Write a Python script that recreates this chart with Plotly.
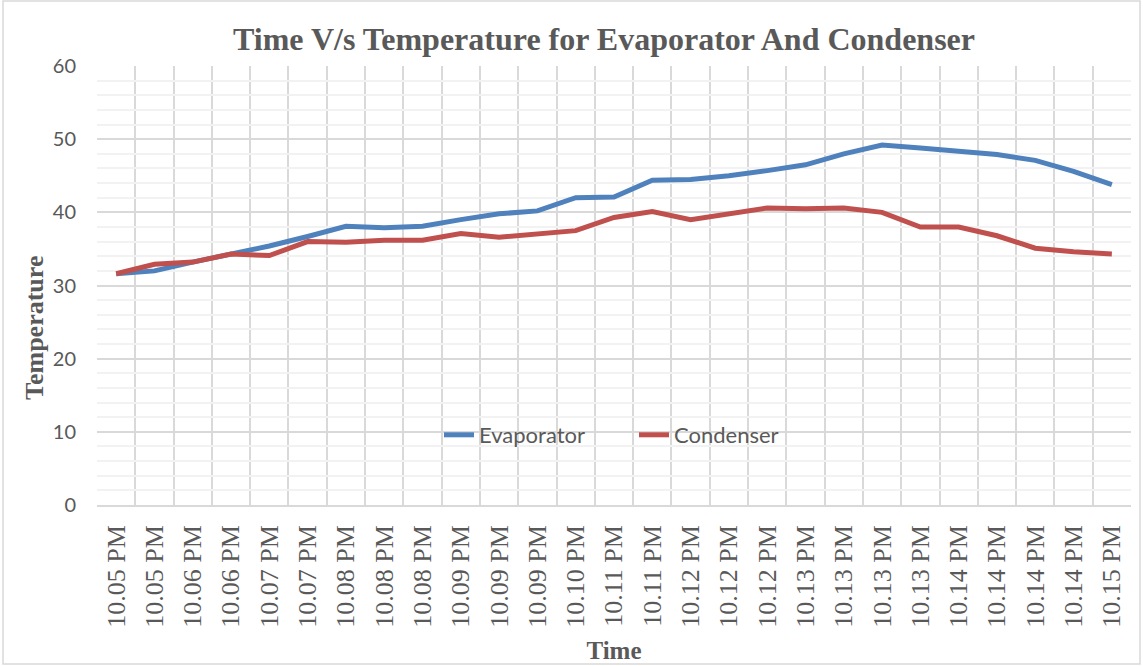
import plotly.graph_objects as go

times = ["10.05 PM", "10.05 PM", "10.06 PM", "10.06 PM", "10.07 PM", "10.07 PM",
         "10.08 PM", "10.08 PM", "10.08 PM", "10.09 PM", "10.09 PM", "10.09 PM",
         "10.10 PM", "10.11 PM", "10.11 PM", "10.12 PM", "10.12 PM", "10.12 PM",
         "10.13 PM", "10.13 PM", "10.13 PM", "10.13 PM", "10.14 PM", "10.14 PM",
         "10.14 PM", "10.14 PM", "10.15 PM"]
evaporator = [31.6, 32.0, 33.2, 34.3, 35.4, 36.7, 38.1, 37.9, 38.1, 39.0, 39.8, 40.2,
              42.0, 42.1, 44.4, 44.5, 45.0, 45.7, 46.5, 48.0, 49.2, 48.8, 48.3, 47.9,
              47.1, 45.6, 43.8]
condenser = [31.6, 32.9, 33.2, 34.3, 34.1, 36.0, 35.9, 36.2, 36.2, 37.1, 36.6, 37.1,
             37.5, 39.3, 40.1, 39.0, 39.8, 40.6, 40.5, 40.6, 40.0, 38.0, 38.0, 36.8,
             35.1, 34.6, 34.3]

idx = list(range(len(times)))
gray = "#595959"
serif = "Liberation Serif, Times New Roman, serif"
sans = "Lato, Carlito, Calibri, sans-serif"

fig = go.Figure()
fig.add_trace(go.Scatter(x=idx, y=evaporator, mode="lines", name="Evaporator",
                         line=dict(color="#4F81BD", width=5)))
fig.add_trace(go.Scatter(x=idx, y=condenser, mode="lines", name="Condenser",
                         line=dict(color="#C0504D", width=5)))

L, R, T, B = 97, 12, 66, 161
W, H = 1143, 666
pw, ph = W - L - R, H - T - B

fig.update_layout(
    width=W, height=H,
    margin=dict(l=L, r=R, t=T, b=B, autoexpand=False),
    paper_bgcolor="white", plot_bgcolor="white",
    title=dict(text="<b>Time V/s Temperature for Evaporator And Condenser</b>",
               x=(604) / W, xanchor="center", y=1 - 39 / H, yanchor="middle",
               font=dict(family=serif, size=32, color=gray)),
    legend=dict(orientation="h", x=(634 - L) / pw, xanchor="center",
                y=(T + ph - 435) / ph, yanchor="middle",
                font=dict(family=sans, size=22, color=gray), bgcolor="rgba(0,0,0,0)",
                entrywidth=150, entrywidthmode="pixels"),
    showlegend=True,
)
fig.update_xaxes(
    range=[-0.5, len(times) - 0.5], automargin=False,
    tickmode="array", tickvals=idx, ticktext=times, tickangle=-90,
    tickfont=dict(family=serif, size=26, color=gray),
    showgrid=False, zeroline=False, ticks="", ticklabelstandoff=8,
    showline=True, linecolor="#D9D9D9", linewidth=1.5,
    minor=dict(tickmode="linear", tick0=0.5, dtick=1, showgrid=True,
               gridcolor="#D9D9D9", gridwidth=1.5, ticks=""),
    title=dict(text="<b>Time</b>", font=dict(family=serif, size=25, color=gray), standoff=15),
)
fig.update_yaxes(
    range=[0, 60], tickmode="linear", tick0=0, dtick=10, automargin=False,
    tickfont=dict(family=sans, size=20, color=gray),
    showgrid=True, gridcolor="#D9D9D9", gridwidth=1.5, zeroline=False, ticks="",
    minor=dict(dtick=2, showgrid=True, gridcolor="#F2F2F2", gridwidth=1.5),
    ticklabelstandoff=20,
)

fig.add_annotation(text="<b>Temperature</b>", textangle=-90, showarrow=False,
                   xref="paper", yref="paper",
                   x=(34 - L) / pw, y=(T + ph - 328) / ph,
                   xanchor="center", yanchor="middle",
                   font=dict(family=serif, size=26, color=gray))

fig.add_shape(type="rect", xref="paper", yref="paper",
              x0=(3 - L) / pw, x1=(W - 3 - L) / pw,
              y0=(T + ph - (H - 2)) / ph, y1=(T + ph - 1) / ph,
              line=dict(color="#D9D9D9", width=1.5), layer="below")

fig.write_html("out.html", config={"displayModeBar": False},
               post_script="document.body.style.margin='0';document.body.style.overflow='hidden';")
